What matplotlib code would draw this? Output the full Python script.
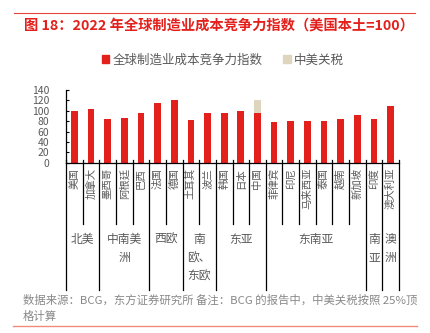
import matplotlib
matplotlib.use("Agg")
import matplotlib.pyplot as plt
from matplotlib.lines import Line2D
from matplotlib.patches import Patch
from matplotlib.transforms import blended_transform_factory

plt.rcParams["font.family"] = ["Noto Sans CJK SC", "DejaVu Sans"]

countries = ["美国", "加拿大", "墨西哥", "阿根廷", "巴西", "法国", "德国", "土耳其", "波兰",
             "韩国", "日本", "中国", "菲律宾", "印尼", "马来西亚", "泰国", "越南", "新加坡",
             "印度", "澳大利亚"]
index_vals = [100, 104, 84, 87, 96, 115, 121, 83, 96,
              96, 99, 96, 79, 80, 80, 80, 84, 92, 85, 110]
tariff_vals = [0, 0, 0, 0, 0, 0, 0, 0, 0,
               0, 0, 25, 0, 0, 0, 0, 0, 0, 0, 0]
groups = ["北美", "中南美\n洲", "西欧", "南\n欧、\n东欧", "东亚", "东南亚", "南\n亚", "澳\n洲"]
group_sizes = [2, 3, 2, 2, 3, 6, 1, 1]
yticks = [0, 20, 40, 60, 80, 100, 120, 140]

RED = "#E3201B"
BEIGE = "#DDD5BD"
GRAY = "#595959"
W, H = 430, 333

fig = plt.figure(figsize=(4.3, 3.33), dpi=100)
ax = fig.add_axes([66 / W, 1 - 162.7 / H, 333 / W, 72.7 / H])

x = list(range(len(countries)))
ax.bar(x, index_vals, width=0.4, color=RED, zorder=2)
ax.bar(x, tariff_vals, width=0.4, bottom=index_vals, color=BEIGE, zorder=2)

ax.set_xlim(-0.5, len(countries) - 0.5)
ax.set_ylim(0, 140)
ax.set_yticks(yticks)
ax.set_yticklabels([str(v) for v in yticks], fontsize=7.5, color=GRAY)
ax.tick_params(axis="y", direction="in", length=2, pad=12, colors="black", labelcolor=GRAY)
ax.set_xticks([])
for s in ["top", "right"]:
    ax.spines[s].set_visible(False)
ax.spines["left"].set_linewidth(0.9)
ax.spines["bottom"].set_linewidth(0.9)

# category labels, rotated
tr = blended_transform_factory(ax.transData, fig.transFigure)
for i, name in enumerate(countries):
    ax.text(i, 1 - 168 / H, name, transform=tr, rotation=90, ha="center", va="top",
            fontsize=7.5, color=GRAY)

# separators
bounds = [-0.5]
for n in group_sizes:
    bounds.append(bounds[-1] + n)
y_axis = 1 - 162.7 / H
y_inner = 1 - 224 / H
y_outer = 1 - 290 / H
for b in range(len(countries) + 1):
    xb = b - 0.5
    y_end = y_outer if xb in bounds else y_inner
    fig.add_artist(Line2D([xb, xb], [y_axis + 3 / H, y_end], transform=tr,
                          color="black", lw=0.9))

# group labels
for g, lo, hi in zip(groups, bounds[:-1], bounds[1:]):
    ax.text((lo + hi) / 2, 1 - 233 / H, g, transform=tr, ha="center", va="top",
            fontsize=8.5, color=GRAY, linespacing=1.55)

# title and rules
fig.add_artist(Line2D([14 / W, 415 / W], [1 - 13 / H] * 2, transform=fig.transFigure,
                      color="#E5463A", lw=0.8))
fig.text(24 / W, 1 - 26 / H, "图 18：2022 年全球制造业成本竞争力指数（美国本土=100）",
         fontsize=10.3, fontweight="bold", color="#E3201B", va="center", ha="left")
fig.add_artist(Line2D([13 / W, 417 / W], [1 - 326 / H] * 2, transform=fig.transFigure,
                      color="#F08A7E", lw=1.0))

handles = [Patch(color=RED, label="全球制造业成本竞争力指数"),
           Patch(color=BEIGE, label="中美关税")]
fig.legend(handles=handles, loc="center", bbox_to_anchor=(223 / W, 1 - 60 / H), ncol=2,
           frameon=False, fontsize=9, handlelength=0.6, handleheight=0.6,
           handletextpad=0.3, columnspacing=1.6, labelcolor=GRAY)

fig.text(23 / W, 1 - 300 / H,
         "数据来源：BCG，东方证券研究所 备注：BCG 的报告中，中美关税按照 25%顶",
         fontsize=8.2, color="#888888", va="center", ha="left")
fig.text(23 / W, 1 - 316 / H, "格计算", fontsize=8.2, color="#888888", va="center", ha="left")

fig.savefig("out.png", dpi=100)
